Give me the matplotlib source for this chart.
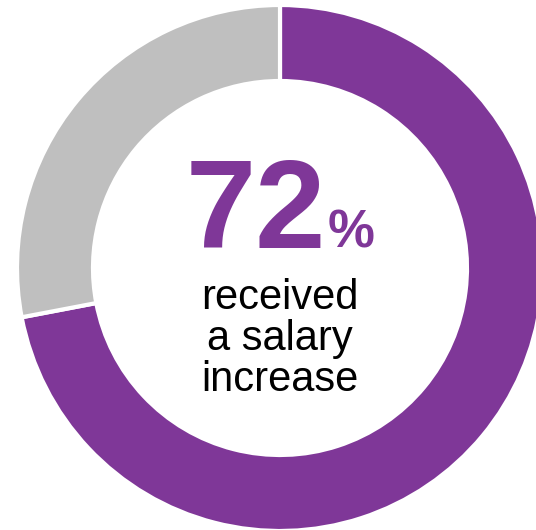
import matplotlib
matplotlib.use("Agg")
import matplotlib.pyplot as plt

# share of respondents
labels = ["Received increase", "No increase"]
shares = [72, 28]
colors = ["#7F3798", "#BFBFBF"]

headline = "72"
caption_lines = ["received", "a salary", "increase"]

W, H = 536, 530
fig = plt.figure(figsize=(W / 100, H / 100), dpi=100)
ax = fig.add_axes([0, 0, 1, 1])

cx, cy = 280, 262
outer_r, ring_w = 263, 76

ax.pie(shares, colors=colors, startangle=90, counterclock=False,
       radius=outer_r, center=(cx, cy),
       wedgeprops=dict(width=ring_w, edgecolor="white", linewidth=3))

ax.set_xlim(0, W)
ax.set_ylim(0, H)
ax.set_aspect("equal")
ax.axis("off")

font = "Liberation Sans"
ax.text(326, 282, headline, ha="right", va="baseline", fontsize=91,
        fontweight="bold", color=colors[0], family=font)
ax.text(328, 282, "%", ha="left", va="baseline", fontsize=38,
        fontweight="bold", color=colors[0], family=font)

for i, line in enumerate(caption_lines):
    ax.text(cx, 221 - i * 41, line, ha="center", va="baseline",
            fontsize=30, color="black", family=font)

fig.savefig("out.png", dpi=100)
